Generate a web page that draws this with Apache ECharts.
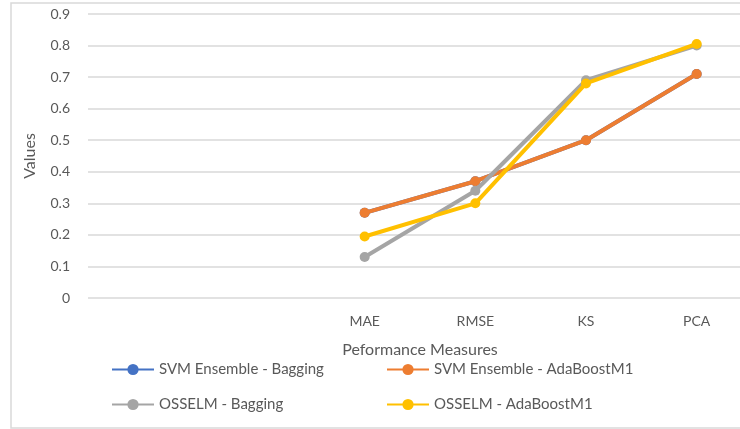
<!DOCTYPE html>
<html>
<head>
<meta charset="utf-8">
<script src="https://cdn.jsdelivr.net/npm/echarts@6/dist/echarts.min.js"></script>
<style>
  html, body { margin: 0; padding: 0; background: #fff; overflow: hidden; }
  /* canvas is a bit wider than the window so the plot runs past the right edge */
  #chart { width: 764px; height: 429px; }
</style>
</head>
<body>
<div id="chart"></div>
<script>
// Category axis: two empty slots precede the measures
const categories = ['', '', 'MAE', 'RMSE', 'KS', 'PCA'];

const seriesNames = [
  'SVM Ensemble - Bagging',
  'SVM Ensemble - AdaBoostM1',
  'OSSELM - Bagging',
  'OSSELM - AdaBoostM1'
];
const seriesColors = ['#4472C4', '#ED7D31', '#A5A5A5', '#FFC000'];

// Values per measure (MAE, RMSE, KS, PCA)
const svmBagging   = [0.27, 0.37, 0.50, 0.71];
const svmAdaBoost  = [0.27, 0.37, 0.50, 0.71];
const osselmBagging  = [0.13, 0.34, 0.69, 0.80];
const osselmAdaBoost = [0.195, 0.30, 0.68, 0.805];

const yTicks = { min: 0, max: 0.9, interval: 0.1 };

const FONT = 'Lato';
const GREY_TEXT = '#595959';

function pad(vals) {
  return [null, null].concat(vals);
}

const allValues = [svmBagging, svmAdaBoost, osselmBagging, osselmAdaBoost];

const series = seriesNames.map((name, i) => ({
  name: name,
  type: 'line',
  data: pad(allValues[i]),
  color: seriesColors[i],
  symbol: 'circle',
  symbolSize: 10,
  lineStyle: { width: 4 },
  connectNulls: false,
  z: 2 + i
}));

const chart = echarts.init(document.getElementById('chart'), null, { renderer: 'canvas' });

const legendText = { color: GREY_TEXT, fontSize: 15, fontFamily: FONT };

chart.setOption({
  animation: false,
  backgroundColor: '#fff',
  textStyle: { fontFamily: FONT },
  graphic: [{
    type: 'rect',
    shape: { x: 11, y: 3, width: 770, height: 425 },
    style: { fill: 'none', stroke: '#d9d9d9', lineWidth: 1.5 },
    silent: true,
    z: -10
  }],
  grid: { left: 88, right: 12, top: 14, height: 284, containLabel: false },
  xAxis: {
    type: 'category',
    data: categories,
    boundaryGap: true,
    axisLine: { show: false },
    axisTick: { show: false },
    axisLabel: { color: GREY_TEXT, fontSize: 14, fontFamily: FONT, margin: 16 },
    name: 'Peformance Measures',
    nameLocation: 'middle',
    nameGap: 44,
    nameTextStyle: { color: GREY_TEXT, fontSize: 16, fontFamily: FONT }
  },
  yAxis: {
    type: 'value',
    min: yTicks.min,
    max: yTicks.max,
    interval: yTicks.interval,
    axisLine: { show: false },
    axisTick: { show: false },
    splitLine: { lineStyle: { color: '#d9d9d9', width: 1.5 } },
    axisLabel: { color: GREY_TEXT, fontSize: 14, fontFamily: FONT, margin: 18 },
    name: 'Values',
    nameLocation: 'middle',
    nameRotate: 90,
    nameGap: 50,
    nameTextStyle: { color: GREY_TEXT, fontSize: 16, fontFamily: FONT }
  },
  legend: [
    {
      data: [seriesNames[0], seriesNames[2]],
      orient: 'vertical',
      left: 111,
      top: 362,
      padding: 0,
      itemGap: 20,
      itemWidth: 42,
      itemHeight: 14,
      textStyle: legendText
    },
    {
      data: [seriesNames[1], seriesNames[3]],
      orient: 'vertical',
      left: 386,
      top: 362,
      padding: 0,
      itemGap: 20,
      itemWidth: 42,
      itemHeight: 14,
      textStyle: legendText
    }
  ],
  series: series
});
</script>
</body>
</html>
